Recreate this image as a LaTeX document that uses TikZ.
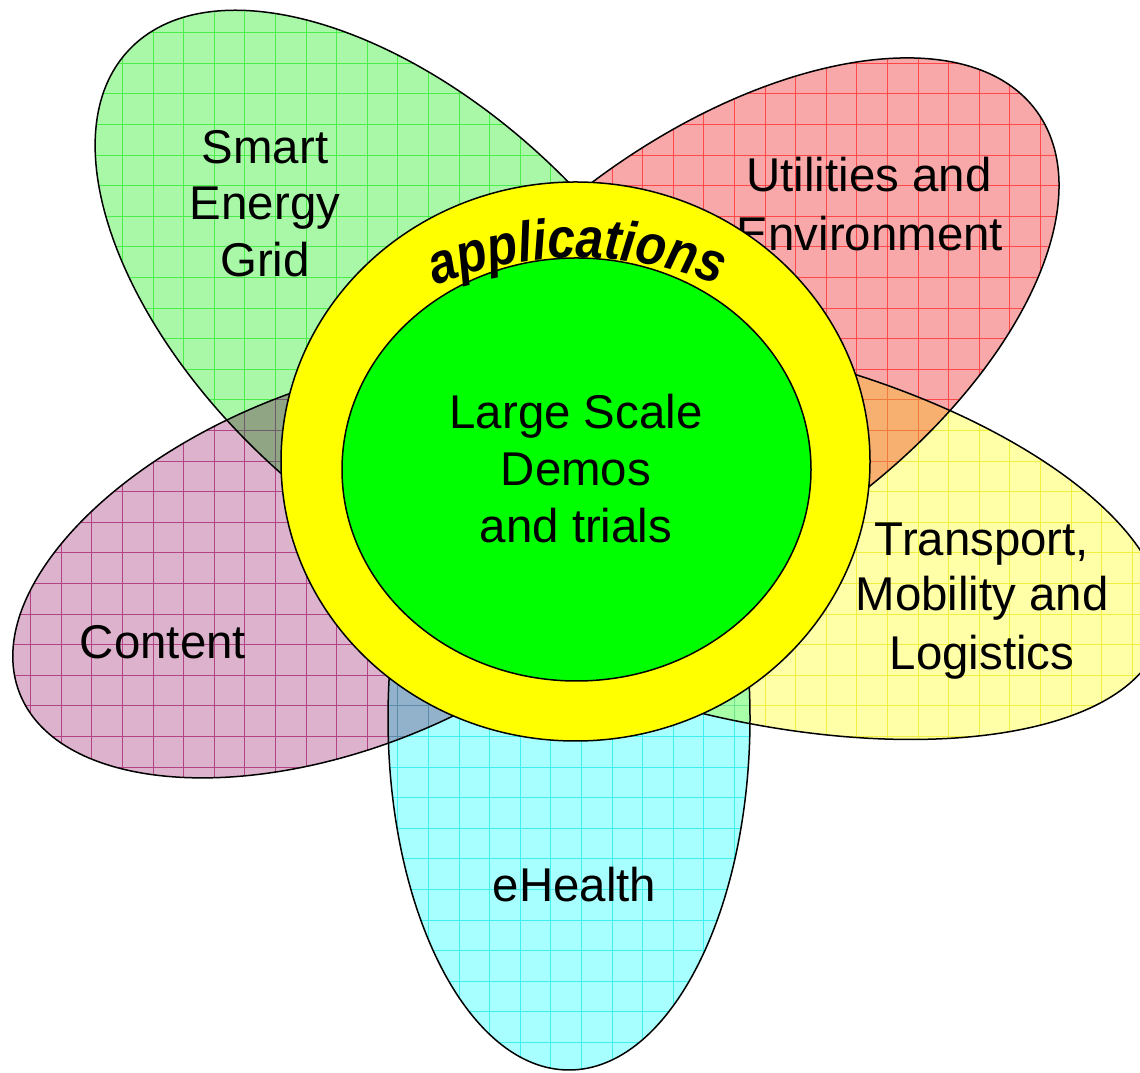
\documentclass[tikz,border=0pt]{standalone}
\usepackage{fontspec}
\setmainfont{Liberation Sans}
\newfontfamily\appfont[FakeStretch=0.88]{Liberation Sans}
\usetikzlibrary{decorations.text}
\definecolor{gfill}{HTML}{A8F8A8}\definecolor{gline}{HTML}{4CEE4C}
\definecolor{pfill}{HTML}{DDB2CC}\definecolor{pline}{HTML}{B04485}
\definecolor{rfill}{HTML}{F8A8A8}\definecolor{rline}{HTML}{FF4848}
\definecolor{yfill}{HTML}{FFFFA8}\definecolor{yline}{HTML}{F2EE40}
\definecolor{cfill}{HTML}{A8FFFF}\definecolor{cline}{HTML}{40F0F0}
% overlaps (multiplied colours)
\definecolor{gpfill}{HTML}{8FA584}\definecolor{gpline}{HTML}{6E5C6A}
\definecolor{ryfill}{HTML}{F8B070}\definecolor{ryline}{HTML}{F07A40}
\definecolor{cpfill}{HTML}{92B2CC}\definecolor{cpline}{HTML}{5A8CA8}
\definecolor{cyfill}{HTML}{A8FFA8}\definecolor{cyline}{HTML}{70E890}
\definecolor{ring}{HTML}{FFFF00}\definecolor{core}{HTML}{00FF00}
% petal shapes
\newcommand\shG[1]{\path[#1, rotate around={-43.1:(406,763)}] (406,763) ellipse [x radius=380, y radius=205];}
\newcommand\shR[1]{\path[#1, rotate around={36.2:(721,731)}] (721,731) ellipse [x radius=391, y radius=205];}
\newcommand\shY[1]{\path[#1, rotate around={-13.6:(743,539)}] (743,539) ellipse [x radius=430, y radius=184];}
\newcommand\shC[1]{\path[#1] (569,355) ellipse [x radius=181, y radius=352];}
\newcommand\shP[1]{\path[#1, rotate around={21.3:(340,505)}] (340,505) ellipse [x radius=344, y radius=181];}
% #1 shape, #2 fill, #3 grid colour
\newcommand\petalbody[3]{\begin{scope}#1{clip}
  \fill[#2] (0,0) rectangle (1140,1073);
  \draw[#3, gridl] (0,0) grid (1140,1073);\end{scope}}
% #1,#2 shapes, #3 fill, #4 grid colour
\newcommand\petaloverlap[4]{\begin{scope}#1{clip}#2{clip}
  \fill[#3] (0,0) rectangle (1140,1073);
  \draw[#4, gridl] (0,0) grid (1140,1073);\end{scope}}
\begin{document}
\begin{tikzpicture}[x=1pt,y=1pt,
  outline/.style={draw=black, line width=1.5},
  gridl/.style={line width=0.7, step=30.6},
  lbl/.style={font=\fontsize{47.4}{57}\selectfont, anchor=base, inner sep=0pt}]
\useasboundingbox (0,0) rectangle (1140,1073);
% petals
\petalbody{\shG}{gfill}{gline}
\petalbody{\shR}{rfill}{rline}
\petalbody{\shY}{yfill}{yline}
\petalbody{\shC}{cfill}{cline}
\petalbody{\shP}{pfill}{pline}
\petaloverlap{\shG}{\shP}{gpfill}{gpline}
\petaloverlap{\shR}{\shY}{ryfill}{ryline}
\petaloverlap{\shC}{\shP}{cpfill}{cpline}
\petaloverlap{\shC}{\shY}{cyfill}{cyline}
\shG{outline}
\shR{outline}
\shY{outline}
\shC{outline}
\shP{outline}
% petal labels
\node[lbl] (smart)  at (265,909.4) {Smart};
\node[lbl] (energy) at (265,853)   {Energy};
\node[lbl] (grid)   at (265,796)   {Grid};
\node[lbl] (util)   at (869,881)   {Utilities and};
\node[lbl] (env)    at (870,822)   {Environment};
\node[lbl] (trans)  at (982,517.5) {Transport,};
\node[lbl] (mob)    at (982,462)   {Mobility and};
\node[lbl] (logi)   at (982,403)   {Logistics};
\node[lbl] (content) at (163,414)  {Content};
\node[lbl] (ehealth) at (574.5,171) {eHealth};
% centre
\draw[outline, fill=ring] (575.5,611.5) ellipse [x radius=294.5, y radius=279.5];
\draw[outline, fill=core] (576.5,603.5) ellipse [x radius=234.5, y radius=211.5];
\node[lbl] (large) at (576,644) {Large Scale};
\node[lbl] (demos) at (576,587) {Demos};
\node[lbl] (trials) at (576,530) {and trials};
\path[decorate, decoration={text along path,
  text={|\appfont\fontsize{56.5}{60}\selectfont\bfseries\itshape|applications},
  text align=center}]
  (577,435) ++(114:380) arc[start angle=114, end angle=66, radius=380];
\end{tikzpicture}
\end{document}
